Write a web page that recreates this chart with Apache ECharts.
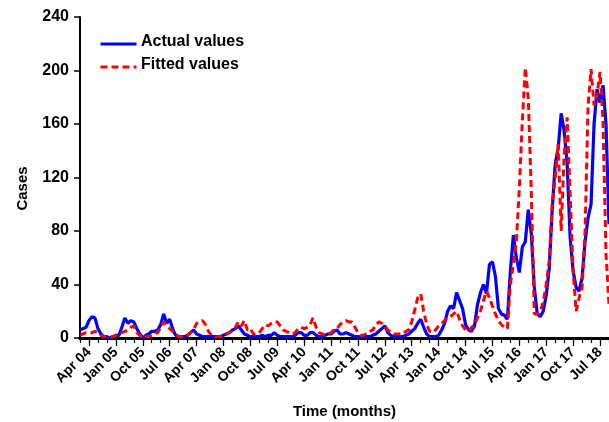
<!DOCTYPE html>
<html>
<head>
<meta charset="utf-8">
<script src="https://cdn.jsdelivr.net/npm/echarts@6/dist/echarts.min.js"></script>
<style>
html,body{margin:0;padding:0;background:#fff;}
#chart{width:609px;height:422px;}
</style>
</head>
<body>
<div id="chart"></div>
<script>
// Monthly categories Jan 04 .. Oct 18
const monthNames = ["Jan","Feb","Mar","Apr","May","Jun","Jul","Aug","Sep","Oct","Nov","Dec"];
const months = [];
for (let y = 2004; y <= 2018; y++) {
  for (let m = 0; m < 12; m++) {
    if (y === 2018 && m > 9) break;
    months.push(monthNames[m] + " " + String(y % 100).padStart(2, "0"));
  }
}

const actualValues = [
  6,7,8,13,16,15,7,3,1,1,0,1,
  2,2,8,15,11,13,12,7,3,0,2,3,
  5,5,6,10,18,11,14,7,2,1,1,1,
  2,4,6,3,2,1,1,1,1,1,1,1,
  2,3,4,6,7,9,6,3,2,1,1,1,
  1,2,1,2,2,4,2,1,1,1,1,1,
  2,4,4,2,2,4,4,2,1,1,2,3,
  3,5,6,3,3,4,3,2,1,1,1,1,
  1,1,2,3,5,7,9,4,2,1,1,1,
  1,2,3,5,7,11,14,8,3,1,1,1,
  2,6,11,20,24,22,34,28,22,10,6,5,
  9,25,34,40,33,55,57,46,22,18,17,14,
  50,77,60,49,68,72,96,78,38,18,16,20,
  32,52,96,130,142,168,155,130,75,50,38,35,
  45,72,90,100,160,186,176,189,160,85
];

const fittedValues = [
  2,3,4,4,4,5,4,2,1,1,1,1,
  2,3,4,5,6,8,9,4,2,0,1,1,
  2,3,4,8,12,9,7,5,3,1,1,1,
  2,4,6,11,12,13,10,5,2,1,1,1,
  2,3,4,6,8,12,9,13,6,7,3,3,
  4,7,10,9,11,12,12,9,6,5,4,3,
  4,7,8,7,8,10,15,8,4,3,2,3,
  4,6,7,10,12,13,12,12,8,4,2,2,
  4,5,6,10,12,11,9,6,4,3,3,3,
  3,5,6,12,21,30,33,20,10,5,4,6,
  9,11,13,15,16,18,20,14,9,6,5,8,
  10,15,20,28,35,30,24,18,13,10,8,7,
  40,55,72,112,162,202,179,110,18,18,20,27,
  40,58,100,120,145,80,137,165,107,50,20,30,
  38,80,174,201,174,182,199,162,63,25
];

const yTicks = [0, 40, 80, 120, 160, 200, 240];
const seriesNames = ['Actual values', 'Fitted values'];
const seriesColors = ['#0000ff', '#ff0000'];

const chart = echarts.init(document.getElementById('chart'), null, {renderer: 'canvas'});
const font = 'Liberation Sans, Arial, sans-serif';
const labelIdx = (i) => i >= 3 && (i - 3) % 9 === 0;

const legendGraphics = [];
seriesNames.forEach((name, k) => {
  const cy = 43 + k * 23;
  legendGraphics.push({
    type: 'line', left: 98, top: cy - 1.5,
    shape: {x1: 0, y1: 0, x2: 36, y2: 0},
    style: {stroke: seriesColors[k], lineWidth: 3, lineDash: k === 1 ? [7, 4] : null}
  });
  legendGraphics.push({
    type: 'text', left: 141, top: cy - 9,
    style: {text: name, fill: '#000', font: 'bold 16px ' + font}
  });
});

chart.setOption({
  animation: false,
  backgroundColor: '#fff',
  grid: {left: 80, right: 0, top: 17, bottom: 84, containLabel: false, outerBoundsMode: 'none'},
  graphic: legendGraphics,
  xAxis: [{
    type: 'category',
    position: 'bottom',
    data: months,
    boundaryGap: false,
    axisLine: {lineStyle: {color: '#000', width: 3}},
    axisTick: {interval: labelIdx, length: 8, lineStyle: {color: '#000', width: 1.2}},
    axisLabel: {
      interval: labelIdx, rotate: 45, margin: 12,
      fontFamily: font, fontSize: 14, fontWeight: 'bold', color: '#000'
    },
    name: 'Time (months)',
    nameLocation: 'middle',
    nameGap: 66,
    nameTextStyle: {fontFamily: font, fontSize: 15, fontWeight: 'bold', color: '#000'}
  }, {
    type: 'category',
    position: 'bottom',
    data: months,
    boundaryGap: false,
    axisLine: {show: false},
    axisTick: {interval: (i) => i % 3 === 0, length: 5, lineStyle: {color: '#000', width: 1.2}},
    axisLabel: {show: false}
  }],
  yAxis: {
    type: 'value',
    min: 0, max: 240, interval: 40,
    axisLine: {show: true, lineStyle: {color: '#000', width: 2}},
    axisTick: {show: true, length: 6, lineStyle: {color: '#000', width: 1.5}},
    splitLine: {show: false},
    axisLabel: {
      margin: 11, fontFamily: font, fontSize: 16, fontWeight: 'bold', color: '#000',
      formatter: (v) => yTicks.includes(v) ? String(v) : ''
    },
    name: 'Cases',
    nameLocation: 'middle',
    nameGap: 50,
    nameTextStyle: {fontFamily: font, fontSize: 15, fontWeight: 'bold', color: '#000', padding: [0, 22, 0, 0]}
  },
  series: [{
    name: seriesNames[0],
    type: 'line',
    xAxisIndex: 0,
    data: actualValues,
    symbol: 'none',
    lineStyle: {color: seriesColors[0], width: 3.2},
    itemStyle: {color: seriesColors[0]},
    z: 2
  }, {
    name: seriesNames[1],
    type: 'line',
    xAxisIndex: 0,
    data: fittedValues,
    symbol: 'none',
    lineStyle: {color: seriesColors[1], width: 3, type: [7, 4]},
    itemStyle: {color: seriesColors[1]},
    z: 3
  }]
});
</script>
</body>
</html>
